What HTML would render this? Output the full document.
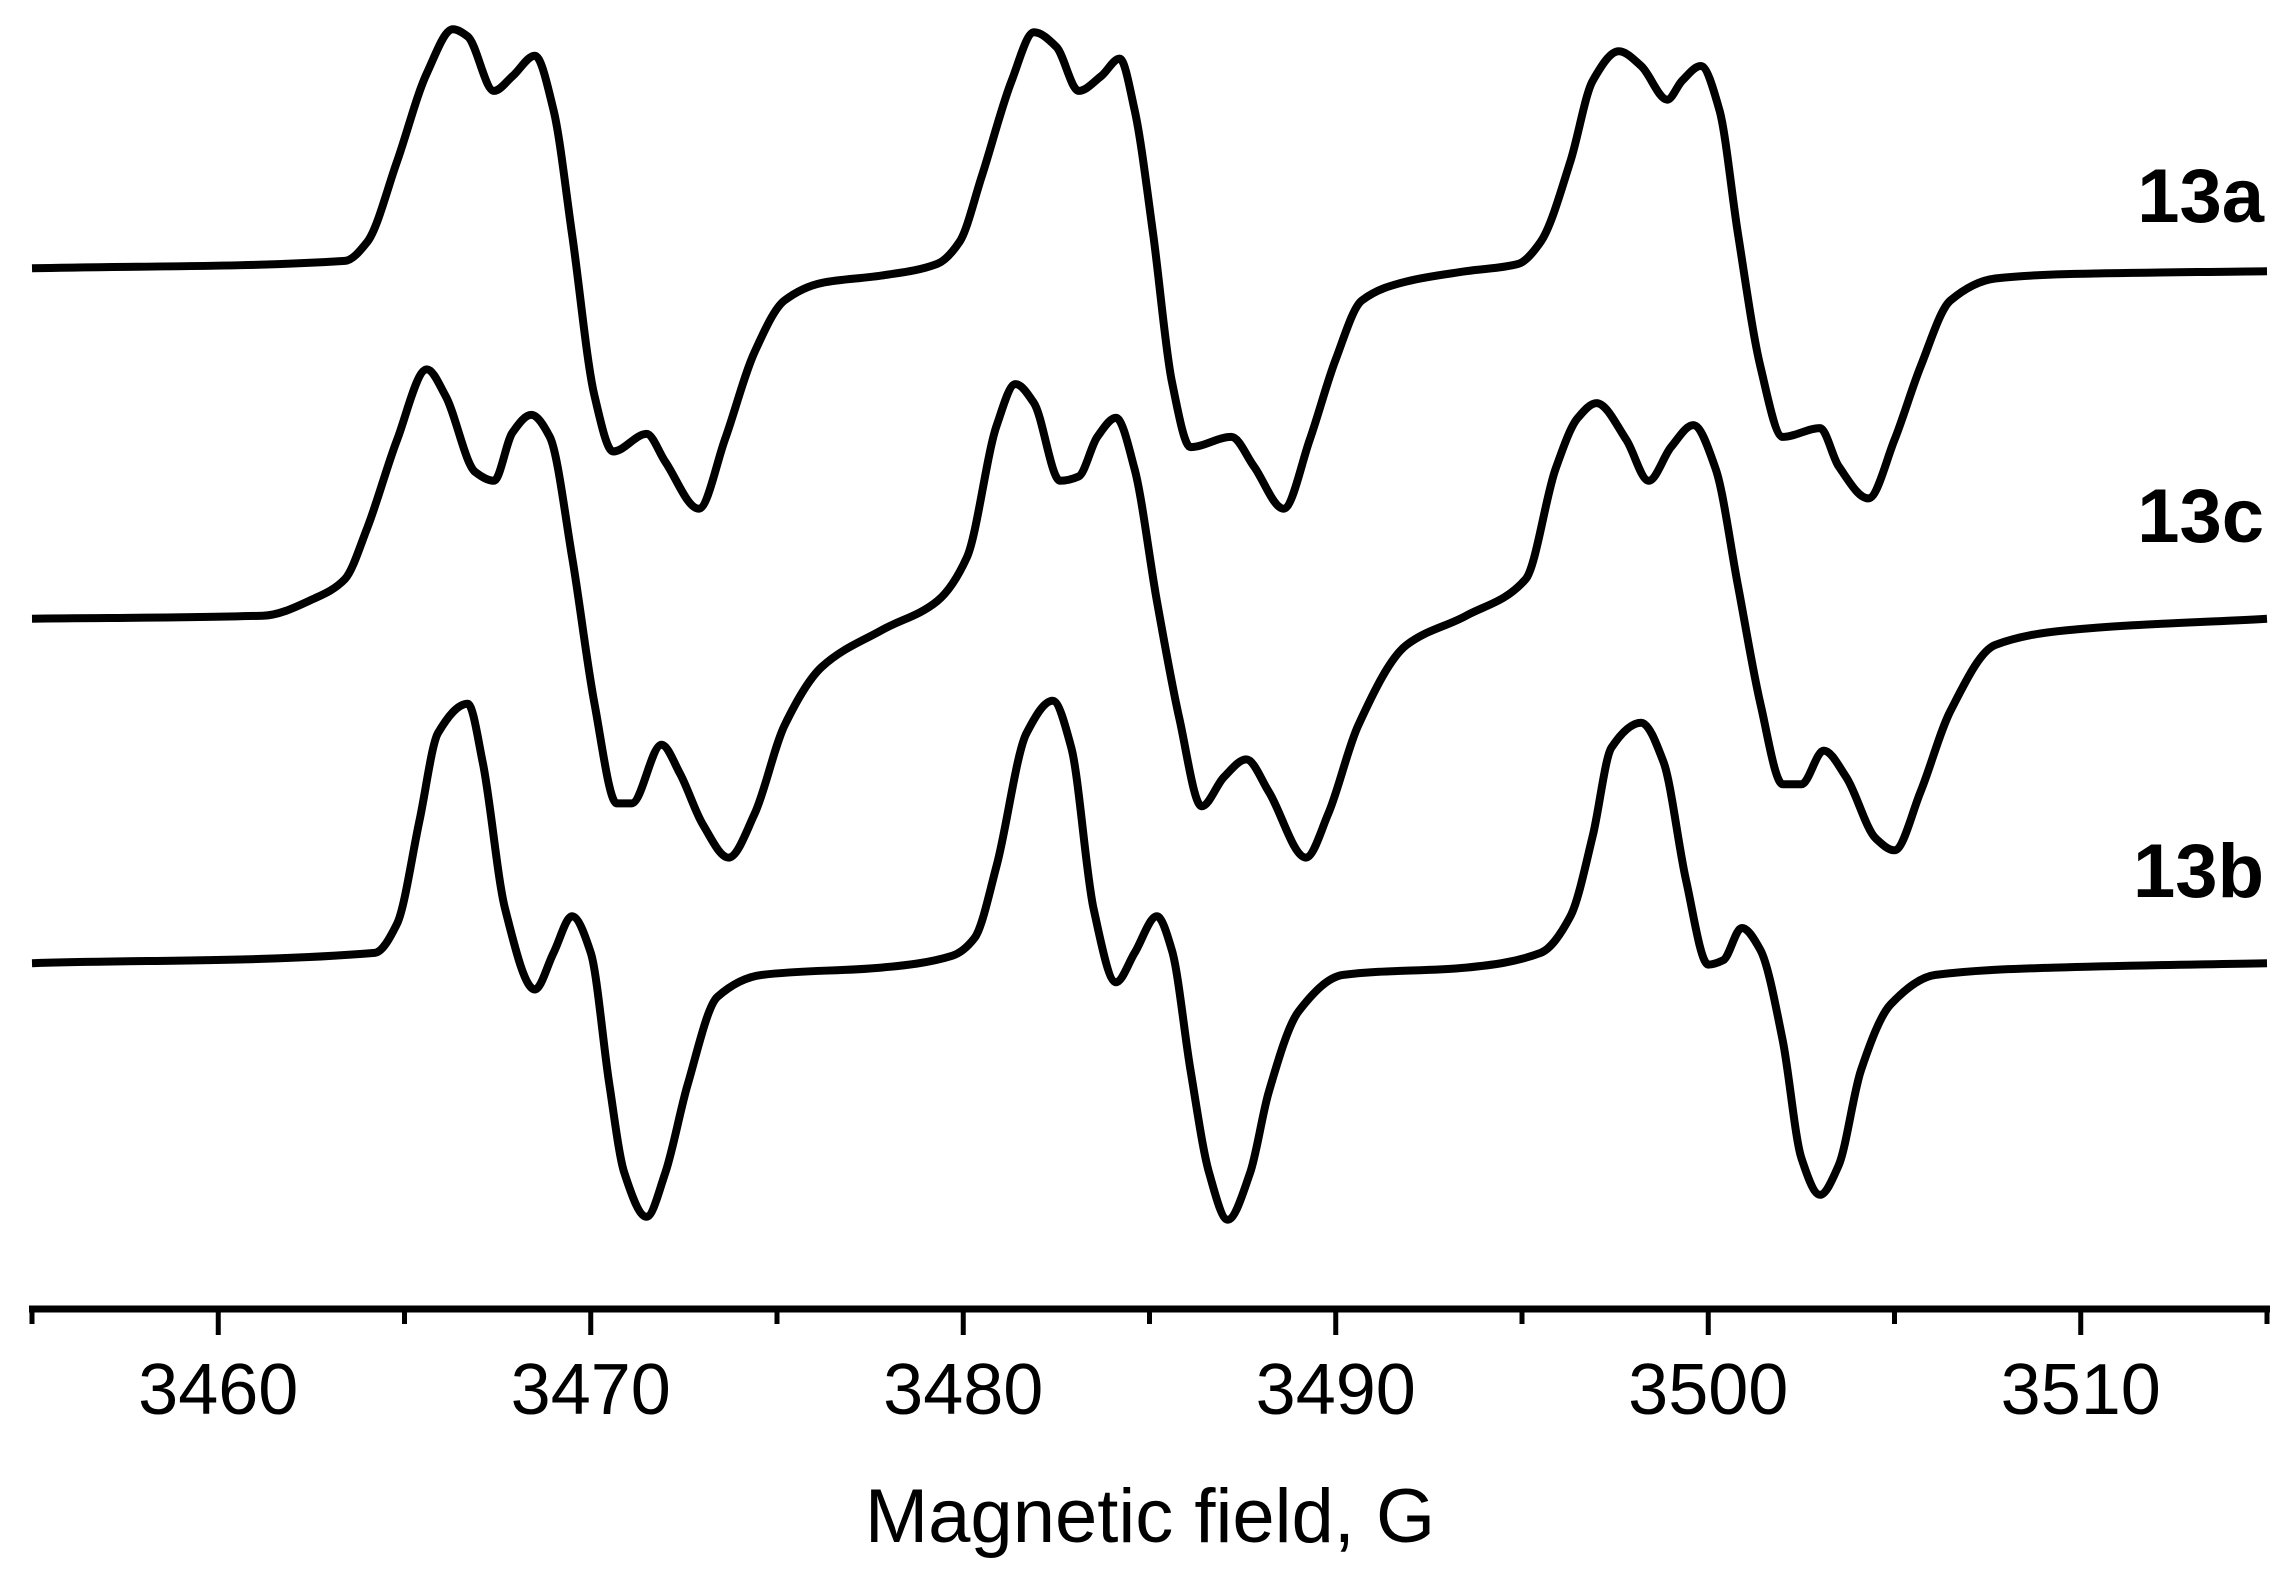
<!DOCTYPE html>
<html><head><meta charset="utf-8"><style>
html,body{margin:0;padding:0;background:#fff;}
svg{display:block;}
text{font-family:"Liberation Sans",Arial,sans-serif;fill:#000;}
</style></head><body>
<svg id="chart" width="2287" height="1571" viewBox="0 0 2287 1571" xmlns="http://www.w3.org/2000/svg">
<g id="traces"></g>
<g id="axis"></g>
<text x="2264" y="222" text-anchor="end" font-size="76" font-weight="bold">13a</text>
<text x="2264" y="542" text-anchor="end" font-size="76" font-weight="bold">13c</text>
<text x="2264" y="897" text-anchor="end" font-size="76" font-weight="bold">13b</text>
<text x="1150" y="1542" text-anchor="middle" font-size="76">Magnetic field, G</text>
</svg>
<script>
const fieldA=[3455.0,3463.4,3464.0,3464.8,3465.6,3466.3,3466.7,3467.4,3467.9,3468.5,3469.0,3469.5,3470.1,3470.6,3471.5,3472.0,3472.9,3473.6,3474.4,3475.2,3476.2,3477.8,3479.3,3479.9,3480.5,3481.3,3481.9,3482.5,3483.1,3483.7,3484.2,3484.6,3485.1,3485.6,3486.1,3487.2,3487.8,3488.6,3489.3,3490.0,3490.7,3491.9,3493.5,3494.9,3495.5,3496.3,3496.9,3497.6,3498.2,3498.9,3499.3,3499.8,3500.3,3500.8,3501.4,3502.0,3503.0,3503.5,3504.3,3505.0,3505.7,3506.5,3507.7,3509.6,3515.0];
const valueA=[2,7,20,75,135,165,160,123,133,147,110,25,-85,-123,-111,-130,-162,-115,-55,-20,-8,-3,5,20,65,130,163,153,123,133,145,110,25,-75,-120,-113,-133,-162,-115,-60,-20,-7,0,5,20,75,130,150,140,117,130,140,110,25,-65,-113,-107,-133,-155,-115,-65,-20,-5,-2,0];
const fieldC=[3455.0,3461.2,3462.6,3463.4,3464.0,3464.8,3465.6,3466.1,3466.9,3467.4,3467.9,3468.4,3468.9,3469.5,3470.1,3470.7,3471.1,3471.9,3472.4,3473.0,3473.7,3474.4,3475.2,3476.2,3477.8,3479.3,3480.1,3480.9,3481.4,3481.9,3482.6,3483.1,3483.6,3484.1,3484.6,3485.2,3485.8,3486.4,3487.0,3487.6,3488.2,3489.2,3489.8,3490.6,3491.9,3493.5,3495.1,3495.9,3496.5,3497.0,3497.8,3498.4,3499.0,3499.6,3500.2,3500.8,3501.4,3502.0,3502.5,3503.1,3503.7,3504.5,3505.0,3505.7,3506.5,3507.7,3509.6,3515.0];
const valueC=[0,2,14,27,62,122,170,152,100,94,127,139,124,42,-58,-126,-126,-86,-106,-140,-163,-133,-73,-33,-8,12,42,132,160,147,94,97,124,137,102,12,-68,-128,-108,-96,-118,-163,-133,-73,-18,2,27,102,137,147,122,94,117,132,102,22,-58,-113,-113,-90,-108,-150,-158,-118,-63,-18,-8,0];
const fieldB=[3455.0,3464.2,3464.8,3465.4,3465.9,3466.7,3467.1,3467.7,3468.5,3469.0,3469.5,3470.0,3470.5,3470.9,3471.5,3472.0,3472.6,3473.4,3474.6,3477.8,3479.7,3480.3,3480.9,3481.7,3482.4,3482.9,3483.5,3484.1,3484.6,3485.2,3485.6,3486.1,3486.6,3487.1,3487.7,3488.2,3489.0,3490.2,3493.5,3495.5,3496.3,3496.9,3497.4,3498.2,3498.8,3499.4,3500.0,3500.4,3500.9,3501.4,3502.0,3502.5,3503.0,3503.5,3504.1,3504.9,3506.1,3509.3,3515.0];
const valueB=[0,7,27,97,157,177,137,37,-18,7,32,7,-83,-143,-173,-143,-83,-23,-8,-3,5,17,67,157,179,147,37,-13,7,32,9,-73,-143,-175,-143,-88,-33,-8,-3,7,32,87,147,164,137,57,-1,2,24,9,-53,-133,-158,-138,-73,-28,-8,-3,0];
const traceNames=['trace-13a','trace-13c','trace-13b'];
const traceOffsets=[185,422,657];
const majorTicks=[3460,3470,3480,3490,3500,3510];
const tickLabels=['3460','3470','3480','3490','3500','3510'];
const minorTicks=[3455,3465,3475,3485,3495,3505,3515];

const NS='http://www.w3.org/2000/svg';
const xMin=3455,xMax=3515,pxMin=32,pxMax=2267;
function xs(f){return pxMin+(f-xMin)/(xMax-xMin)*(pxMax-pxMin);}
function ys(v,off){return (off-v)*1.466;}
// monotone cubic (Fritsch-Carlson) interpolation in data space
function monotonePath(X,Y,off){
  const n=X.length,d=[],m=new Array(n);
  for(let i=0;i<n-1;i++)d.push((Y[i+1]-Y[i])/(X[i+1]-X[i]));
  m[0]=d[0];m[n-1]=d[n-2];
  for(let i=1;i<n-1;i++){
    if(d[i-1]*d[i]<=0)m[i]=0;
    else{const h0=X[i]-X[i-1],h1=X[i+1]-X[i];const w1=2*h1+h0,w2=h1+2*h0;m[i]=(w1+w2)/(w1/d[i-1]+w2/d[i]);}
  }
  let s='M'+xs(X[0]).toFixed(1)+','+ys(Y[0],off).toFixed(1);
  for(let i=0;i<n-1;i++){
    const h=X[i+1]-X[i];
    const c1x=X[i]+h/3,c1y=Y[i]+m[i]*h/3,c2x=X[i+1]-h/3,c2y=Y[i+1]-m[i+1]*h/3;
    s+=' C'+xs(c1x).toFixed(1)+','+ys(c1y,off).toFixed(1)+' '+xs(c2x).toFixed(1)+','+ys(c2y,off).toFixed(1)+' '+xs(X[i+1]).toFixed(1)+','+ys(Y[i+1],off).toFixed(1);
  }
  return s;
}
const series=[[fieldA,valueA],[fieldC,valueC],[fieldB,valueB]];
const tg=document.getElementById('traces');
series.forEach((s,k)=>{
  const p=document.createElementNS(NS,'path');
  p.setAttribute('d',monotonePath(s[0],s[1],traceOffsets[k]));
  p.setAttribute('fill','none');p.setAttribute('stroke','#000');
  p.setAttribute('stroke-width','8');p.setAttribute('stroke-linejoin','round');
  
  
  tg.appendChild(p);
});
const ag=document.getElementById('axis');
const axisY=1309;
const line=document.createElementNS(NS,'line');
line.setAttribute('x1',pxMin-3);line.setAttribute('x2',pxMax+3);
line.setAttribute('y1',axisY);line.setAttribute('y2',axisY);
line.setAttribute('stroke','#000');line.setAttribute('stroke-width','7');


ag.appendChild(line);
majorTicks.forEach((t,i)=>{
  const l=document.createElementNS(NS,'line');
  l.setAttribute('x1',xs(t));l.setAttribute('x2',xs(t));
  l.setAttribute('y1',axisY);l.setAttribute('y2',axisY+26);
  l.setAttribute('stroke','#000');l.setAttribute('stroke-width','5');
  
  
  ag.appendChild(l);
  const tx=document.createElementNS(NS,'text');
  tx.setAttribute('x',xs(t));tx.setAttribute('y',1414);
  tx.setAttribute('text-anchor','middle');tx.setAttribute('font-size','72');
  tx.textContent=tickLabels[i];
  
  
  ag.appendChild(tx);
});
minorTicks.forEach(t=>{
  const l=document.createElementNS(NS,'line');
  l.setAttribute('x1',xs(t));l.setAttribute('x2',xs(t));
  l.setAttribute('y1',axisY);l.setAttribute('y2',axisY+15);
  l.setAttribute('stroke','#000');l.setAttribute('stroke-width','5');
  
  
  ag.appendChild(l);
});
</script>
</body></html>
